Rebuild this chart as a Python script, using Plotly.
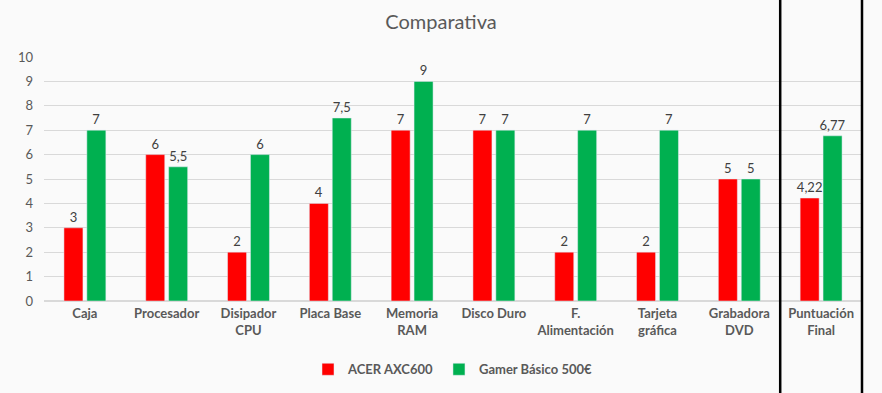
import plotly.graph_objects as go

categories = ["Caja", "Procesador", "Disipador<br>CPU", "Placa Base", "Memoria<br>RAM",
              "Disco Duro", "F.<br>Alimentación", "Tarjeta<br>gráfica", "Grabadora<br>DVD",
              "Puntuación<br>Final"]
acer = [3, 6, 2, 4, 7, 7, 2, 2, 5, 4.22]
gamer = [7, 5.5, 6, 7.5, 9, 7, 7, 7, 5, 6.77]
y_ticks = list(range(0, 11))


def lbl(v):
    return (f"{v:g}").replace(".", ",")


fig = go.Figure()
fig.add_trace(go.Bar(x=categories, y=acer, name="ACER AXC600", marker_color="#FF0000",
                     text=[lbl(v) for v in acer], textposition="outside",
                     textfont=dict(size=13, color="#404040"), cliponaxis=False))
fig.add_trace(go.Bar(x=categories, y=gamer, name="Gamer Básico 500€", marker_color="#00B050",
                     text=[lbl(v) for v in gamer], textposition="outside",
                     textfont=dict(size=13, color="#404040"), cliponaxis=False))

H_PLOT = 244
fig.add_shape(type="line", xref="x", yref="paper", x0=8.5, x1=8.5,
              y0=-92 / H_PLOT, y1=1 + 57 / H_PLOT, line=dict(color="black", width=2.5))
fig.add_shape(type="line", xref="paper", yref="paper", x0=1.0, x1=1.0,
              y0=-92 / H_PLOT, y1=1 + 57 / H_PLOT, line=dict(color="black", width=2.5))

fig.update_layout(
    width=882, height=393,
    margin=dict(l=44, r=20, t=57, b=92, autoexpand=False),
    paper_bgcolor="#FAFAFA", plot_bgcolor="#FAFAFA",
    font=dict(family="Lato, 'Open Sans', sans-serif", color="#595959"),
    title=dict(text="Comparativa", x=0.5, xanchor="center", y=1 - 22 / 393, yanchor="middle",
               font=dict(size=20, color="#595959")),
    barmode="group", bargap=0.44, bargroupgap=0.17,
    uniformtext=dict(minsize=13, mode="show"),
    showlegend=True,
    legend=dict(orientation="h", x=0.5, xanchor="center", y=-0.28, yanchor="middle",
                font=dict(size=13, color="#595959", family="Lato, sans-serif", weight="bold"),
                itemwidth=30, traceorder="normal"),
    xaxis=dict(tickfont=dict(size=13, color="#595959", weight="bold"), showgrid=False,
               showline=True, linecolor="#D9D9D9", ticks="", automargin=False),
    yaxis=dict(range=[0, 10], tickvals=y_ticks, showgrid=True, gridcolor="#D9D9D9",
               zeroline=True, zerolinecolor="#D9D9D9", tickfont=dict(size=13, color="#595959"),
               ticks="", ticklabelstandoff=10, automargin=False),
)

fig.write_html("out.html", config={"displayModeBar": False},
               post_script="document.body.style.margin='0';document.body.style.overflow='hidden';")
